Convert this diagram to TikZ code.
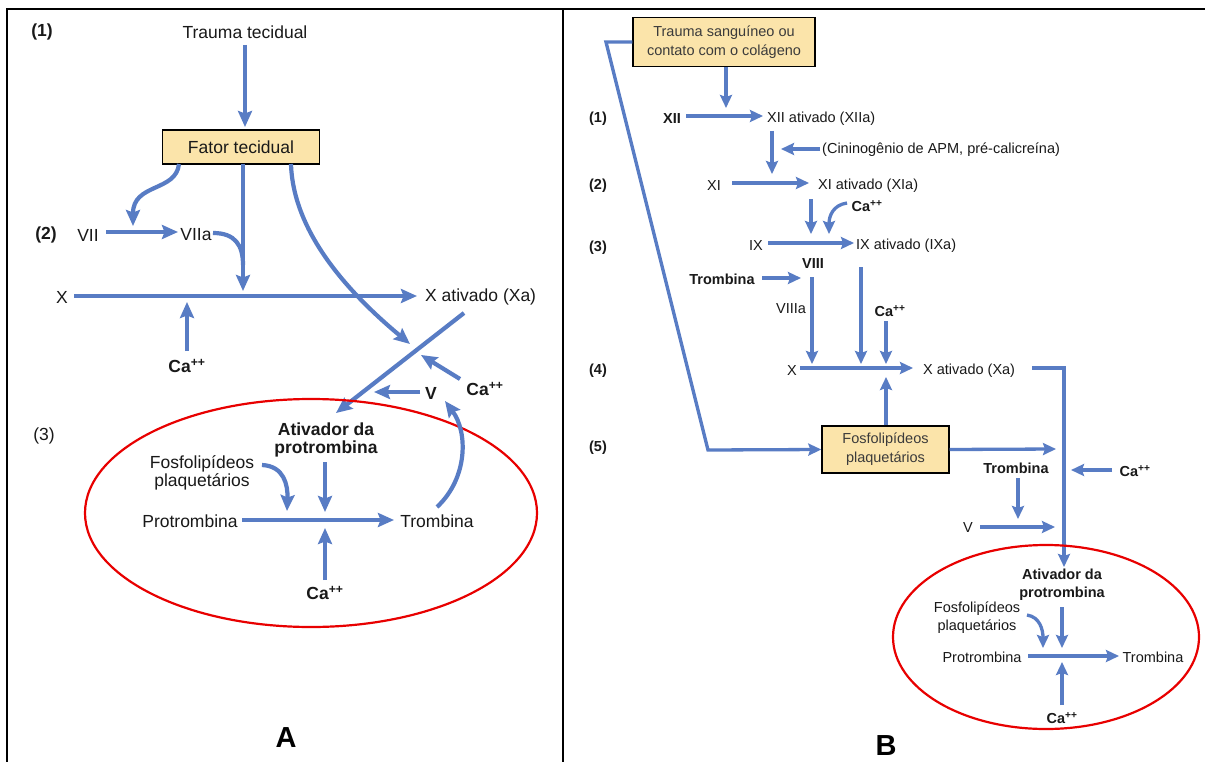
\documentclass[tikz,border=0pt]{standalone}
\usepackage{fontspec}
\setmainfont{Liberation Sans}
\usetikzlibrary{arrows.meta}
\definecolor{cblue}{RGB}{88,124,196}
\definecolor{cbox}{RGB}{251,228,170}
\definecolor{cred}{RGB}{232,0,0}
\definecolor{ctext}{RGB}{25,25,25}
\begin{document}
\begin{tikzpicture}[x=1pt,y=-1pt,
  tA/.style={inner sep=0pt, text=ctext, font=\fontsize{17.5}{18}\selectfont},
  tAb/.style={inner sep=0pt, text=ctext, font=\fontsize{17.5}{18}\selectfont\bfseries},
  tB/.style={inner sep=0pt, text=ctext, font=\fontsize{14.5}{18}\selectfont},
  tBb/.style={inner sep=0pt, text=ctext, font=\fontsize{14.5}{18}\selectfont\bfseries},
  big/.style={inner sep=0pt, text=black, font=\fontsize{29}{30}\selectfont\bfseries},
  aA/.style={draw=cblue, line width=4.2pt, -{Stealth[length=16pt,width=14pt,inset=2.5pt]}},
  lA/.style={draw=cblue, line width=4.2pt},
  aB/.style={draw=cblue, line width=3.3pt, -{Stealth[length=13pt,width=12pt,inset=2pt]}},
  lB/.style={draw=cblue, line width=3.3pt},
  boxA/.style={draw=black, line width=1.4pt, fill=cbox, inner sep=0pt, text=ctext, font=\fontsize{17.5}{18}\selectfont},
  boxB/.style={draw=black, line width=1.4pt, fill=cbox, inner sep=0pt, align=center, text=ctext!85, font=\fontsize{14.5}{19}\selectfont},
  ring/.style={draw=cred, line width=2.2pt},
  frame/.style={draw=black, line width=2pt}
]
\useasboundingbox (0,0) rectangle (1206,762);
\fill[white] (0,0) rectangle (1206,762);
% frame
\draw[frame] (7,762) -- (7,9) -- (1205,9);
\draw[frame] (563,9) -- (563,762);

% ================= Panel A =================
\node[tAb] (a1) at (42,32) {(1)};
\node[tA] (trauma) at (245,32) {Trauma tecidual};
\node[boxA, minimum width=157pt, minimum height=34pt] (fator) at (241,147) {Fator tecidual};
\coordinate (trS) at (245,45);
\coordinate (trE) at (245,127);
\draw[aA] (trS) -- (trE);

\node[tAb] (a2) at (46,235) {(2)};
\node[tA] (vii) at (88,235) {VII};
\node[tA] (viia) at (196,235) {VIIa};
\coordinate (viiS) at (106,232);
\coordinate (viiE) at (178,232);
\draw[aA] (viiS) -- (viiE);

\coordinate (fL) at (179,164);
\coordinate (fLe) at (133,226);
\draw[aA] (fL) .. controls (176,192) and (133,183) .. (fLe);

\coordinate (fM) at (243,164);
\coordinate (fMe) at (243,291);
\draw[aA] (fM) -- (fMe);
\coordinate (viaS) at (213,233);
\coordinate (viaE) at (243,265);
\draw[lA] (viaS) .. controls (235,233) and (243,245) .. (viaE);

\node[tA] (xA) at (62,297) {X};
\node[tA, anchor=west] (xaA) at (425,297) {X ativado (Xa)};
\coordinate (xS) at (74,296);
\coordinate (xE) at (417,296);
\draw[aA] (xS) -- (xE);

\coordinate (fR) at (291,164);
\coordinate (fRe) at (410,344);
\draw[aA] (fR) .. controls (293,230) and (345,290) .. (fRe);

\node[tAb] (caA1) at (187,366) {Ca\textsuperscript{++}};
\coordinate (ca1S) at (187,351);
\coordinate (ca1E) at (187,302);
\draw[aA] (ca1S) -- (ca1E);

\coordinate (dS) at (464,313);
\coordinate (dE) at (336,413);
\draw[aA] (dS) -- (dE);

\node[tAb] (caA2) at (485,389) {Ca\textsuperscript{++}};
\coordinate (ca2S) at (460,379);
\coordinate (ca2E) at (421,355);
\draw[aA] (ca2S) -- (ca2E);

\node[tAb] (vA) at (431,393) {V};
\coordinate (vS) at (420,392);
\coordinate (vE) at (374,392);
\draw[aA] (vS) -- (vE);

\coordinate (ellA) at (311,513);
\draw[ring] (ellA) ellipse [x radius=226, y radius=114];

\node[tA] (a3) at (44,436) {(3)};
\node[tAb, align=center] (ativA) at (326,440) {Ativador da\\protrombina};
\node[tA, align=center] (fosA) at (202,473) {Fosfolipídeos\\plaquetários};
\coordinate (foS) at (262,465);
\coordinate (foE) at (287,511);
\draw[aA] (foS) .. controls (284,466) and (288,485) .. (foE);
\coordinate (atS) at (325,462);
\coordinate (atE) at (325,512);
\draw[aA] (atS) -- (atE);
\node[tA] (protA) at (190,521) {Protrombina};
\node[tA] (tromA) at (437,521) {Trombina};
\coordinate (pS) at (242,520);
\coordinate (pE) at (394,520);
\draw[aA] (pS) -- (pE);
\node[tAb] (caA3) at (325,593) {Ca\textsuperscript{++}};
\coordinate (ca3S) at (325,580);
\coordinate (ca3E) at (325,528);
\draw[aA] (ca3S) -- (ca3E);
\coordinate (tS) at (437,507);
\coordinate (tE) at (445,401);
\draw[aA] (tS) .. controls (468,478) and (468,432) .. (tE);

\node[big] (labA) at (286,738) {A};

% ================= Panel B =================
\node[boxB, minimum width=182pt, minimum height=49pt] (traumaB) at (724,42) {Trauma sanguíneo ou\\contato com o colágeno};
\coordinate (bk1) at (606,42);
\coordinate (bk2) at (708,450);
\node[boxB, minimum width=127pt, minimum height=47pt] (fosB) at (885.5,449.5) {Fosfolipídeos\\plaquetários};
\draw[aB] (traumaB.west) -- (bk1) -- (bk2) -- (fosB.west);

\coordinate (tbS) at (726,67);
\coordinate (tbE) at (726,108);
\draw[aB] (tbS) -- (tbE);

\node[tBb] (b1) at (598,119) {(1)};
\node[tBb] (xii) at (672,119) {XII};
\node[tB, anchor=west] (xiia) at (767,119) {XII ativado (XIIa)};
\coordinate (xiiS) at (686,116);
\coordinate (xiiE) at (763,116);
\draw[aB] (xiiS) -- (xiiE);
\coordinate (xiiaS) at (772,131);
\coordinate (xiiaE) at (772,174);
\draw[aB] (xiiaS) -- (xiiaE);
\node[tB, anchor=west] (cini) at (822,150) {(Cininogênio de APM, pré-calicreína)};
\coordinate (ciS) at (820,149);
\coordinate (ciE) at (781,149);
\draw[aB] (ciS) -- (ciE);

\node[tBb] (b2) at (598,186) {(2)};
\node[tB] (xi) at (714,186) {XI};
\node[tB, anchor=west] (xia) at (818,186) {XI ativado (XIa)};
\coordinate (xiS) at (732,183);
\coordinate (xiE) at (809,183);
\draw[aB] (xiS) -- (xiE);
\coordinate (xiaS) at (811,199);
\coordinate (xiaE) at (811,234);
\draw[aB] (xiaS) -- (xiaE);
\node[tBb] (caB1) at (867,206) {Ca\textsuperscript{++}};
\coordinate (cb1S) at (847,203);
\coordinate (cb1E) at (829,234);
\draw[aB] (cb1S) .. controls (833,205) and (829,216) .. (cb1E);

\node[tBb] (b3) at (598,248) {(3)};
\node[tB] (ix) at (756,246) {IX};
\node[tB, anchor=west] (ixa) at (856,246) {IX ativado (IXa)};
\coordinate (ixS) at (768,243);
\coordinate (ixE) at (854,243);
\draw[aB] (ixS) -- (ixE);
\node[tBb] (viii) at (813,264) {VIII};
\node[tBb] (trB1) at (722,279) {Trombina};
\coordinate (tr1S) at (762,278);
\coordinate (tr1E) at (801,278);
\draw[aB] (tr1S) -- (tr1E);
\node[tB] (viiia) at (791,309) {VIIIa};
\coordinate (v8S) at (812,277);
\coordinate (v8E) at (812,364);
\draw[aB] (v8S) -- (v8E);
\coordinate (ixaS) at (861,267);
\coordinate (ixaE) at (861,364);
\draw[aB] (ixaS) -- (ixaE);
\node[tBb] (caB2) at (890,311) {Ca\textsuperscript{++}};
\coordinate (cb2S) at (886,321);
\coordinate (cb2E) at (886,364);
\draw[aB] (cb2S) -- (cb2E);

\node[tBb] (b4) at (598,371) {(4)};
\node[tB] (xB) at (792,371) {X};
\node[tB, anchor=west] (xaB) at (923,371) {X ativado (Xa)};
\coordinate (xbS) at (800,368);
\coordinate (xbE) at (913,368);
\draw[aB] (xbS) -- (xbE);
\coordinate (fupE) at (886,377);
\draw[aB] (fosB.north -| fupE) -- (fupE);
\coordinate (xaR) at (1032,368);
\coordinate (xaC) at (1064,368);
\coordinate (xaD) at (1064,567);
\draw[aB] (xaR) -- (xaC) -- (xaD);

\node[tBb] (b5) at (598,448) {(5)};
\coordinate (frE) at (1056,449);
\draw[aB] (fosB.east) -- (frE);
\node[tBb] (trB2) at (1016,468) {Trombina};
\coordinate (tr2S) at (1018,478);
\coordinate (tr2E) at (1018,519);
\draw[aB] (tr2S) -- (tr2E);
\node[tBb] (caB3) at (1135,471) {Ca\textsuperscript{++}};
\coordinate (cb3S) at (1112,470);
\coordinate (cb3E) at (1071,470);
\draw[aB] (cb3S) -- (cb3E);
\node[tB] (vB) at (968,528) {V};
\coordinate (vbS) at (980,527);
\coordinate (vbE) at (1055,527);
\draw[aB] (vbS) -- (vbE);

\coordinate (ellB) at (1046,637);
\draw[ring] (ellB) ellipse [x radius=153, y radius=92];
\node[tBb, align=center] (ativB) at (1062,585) {Ativador da\\protrombina};
\node[tB, align=center] (fosB2) at (977,618) {Fosfolipídeos\\plaquetários};
\coordinate (fo2S) at (1027,615);
\coordinate (fo2E) at (1043,648);
\draw[aB] (fo2S) .. controls (1040,617) and (1043,630) .. (fo2E);
\coordinate (at2S) at (1062,607);
\coordinate (at2E) at (1062,648);
\draw[aB] (at2S) -- (at2E);
\node[tB] (protB) at (982,657) {Protrombina};
\node[tB] (tromB) at (1153,657) {Trombina};
\coordinate (p2S) at (1028,656);
\coordinate (p2E) at (1119,656);
\draw[aB] (p2S) -- (p2E);
\node[tBb] (caB4) at (1062,718) {Ca\textsuperscript{++}};
\coordinate (cb4S) at (1062,705);
\coordinate (cb4E) at (1062,662);
\draw[aB] (cb4S) -- (cb4E);

\node[big] (labB) at (886,746) {B};
\end{tikzpicture}
\end{document}
